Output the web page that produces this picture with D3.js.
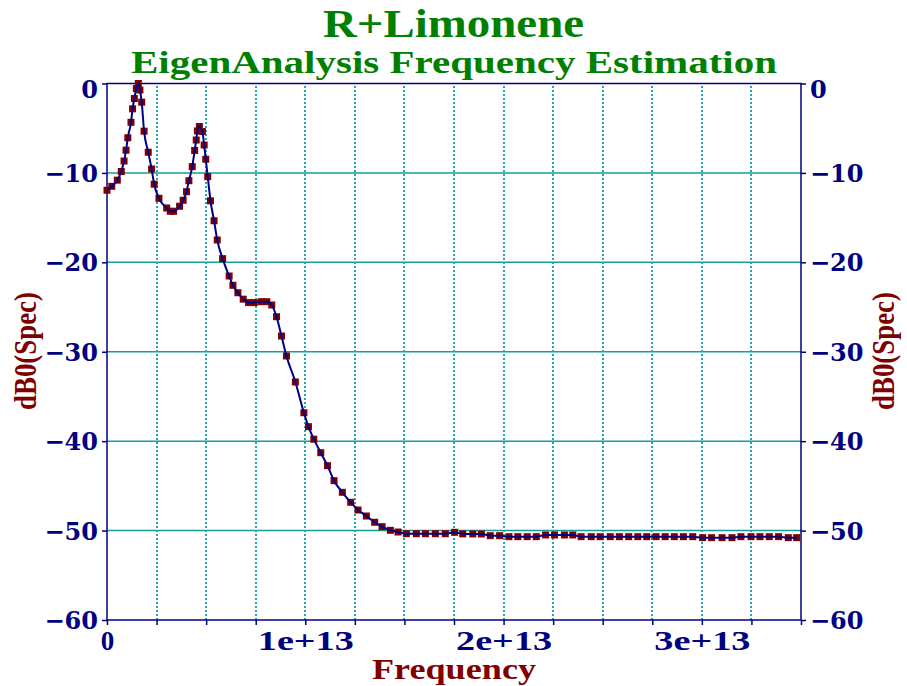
<!DOCTYPE html>
<html>
<head>
<meta charset="utf-8">
<script src="https://cdn.jsdelivr.net/npm/d3@7"></script>
<style>
  body { margin: 0; background: #fff; }
  svg { display: block; }
</style>
</head>
<body>
<svg id="chart"></svg>
<script>
// Spectrum samples: frequency (Hz) and level (dB)
const freq = [
    0.00e12, 0.24e12, 0.52e12, 0.72e12, 0.86e12, 0.96e12, 1.05e12, 1.21e12, 1.29e12, 1.38e12, 1.48e12, 1.58e12,
    1.66e12, 1.75e12, 1.87e12, 2.08e12, 2.25e12, 2.38e12,
    2.62e12, 3.01e12, 3.19e12, 3.36e12, 3.66e12, 3.84e12,
    4.01e12, 4.13e12, 4.30e12, 4.42e12, 4.50e12, 4.56e12,
    4.66e12, 4.81e12, 4.90e12, 4.98e12, 5.08e12, 5.22e12,
    5.40e12, 5.56e12, 5.83e12, 6.16e12, 6.35e12, 6.60e12,
    6.87e12, 7.14e12, 7.43e12, 7.79e12, 8.06e12, 8.31e12,
    8.55e12, 8.80e12, 9.05e12, 9.50e12, 9.93e12, 10.16e12,
    10.43e12, 10.78e12, 11.12e12, 11.45e12, 11.87e12, 12.29e12,
    12.66e12, 13.08e12, 13.50e12, 13.87e12, 14.29e12, 14.68e12,
    15.10e12, 15.60e12, 16.06e12, 16.56e12, 17.06e12, 17.53e12,
    17.94e12, 18.45e12, 18.88e12, 19.33e12, 19.80e12, 20.27e12,
    20.72e12, 21.19e12, 21.65e12, 22.12e12, 22.57e12, 23.07e12,
    23.49e12,
    23.91e12, 24.42e12, 24.87e12, 25.38e12, 25.84e12, 26.31e12, 26.77e12, 27.22e12, 27.69e12, 28.15e12, 28.61e12, 29.07e12, 29.54e12,
    30.04e12, 30.49e12, 31.02e12, 31.52e12,
    31.97e12, 32.48e12, 32.93e12, 33.40e12, 33.87e12,
    34.36e12, 34.78e12
];
const level = [
    -11.94, -11.50, -10.81, -9.84, -8.67, -7.46, -6.07, -4.34, -2.83, -1.68, -0.56, 0.00,
    -0.73, -2.09, -5.33, -7.69, -9.56, -11.26,
    -12.84, -13.92, -14.29, -14.29, -13.73, -13.06,
    -12.10, -10.87, -9.30, -7.49, -6.32, -5.31,
    -4.81, -5.37, -6.88, -8.47, -10.42, -13.12,
    -15.35, -17.50, -19.59, -21.53, -22.57, -23.40,
    -24.12, -24.50, -24.50, -24.40, -24.40, -24.77,
    -26.08, -28.24, -30.47, -33.38, -36.82, -38.38,
    -39.78, -41.29, -42.74, -44.42, -45.72, -46.84,
    -47.70, -48.37, -49.07, -49.56, -49.97, -50.16,
    -50.35, -50.35, -50.35, -50.35, -50.35, -50.19,
    -50.37, -50.38, -50.38, -50.57, -50.57, -50.68,
    -50.68, -50.68, -50.68, -50.49, -50.49, -50.49,
    -50.49,
    -50.68, -50.68, -50.68, -50.68, -50.68, -50.68, -50.68, -50.68, -50.68, -50.68, -50.68, -50.68, -50.68,
    -50.79, -50.79, -50.79, -50.79,
    -50.68, -50.68, -50.68, -50.68, -50.68,
    -50.79, -50.79
];

// Axis ticks and labels
const yTicks = [0, -10, -20, -30, -40, -50, -60];
const xGridTicks = [0, 2.5e12, 5e12, 7.5e12, 10e12, 12.5e12, 15e12, 17.5e12, 20e12, 22.5e12, 25e12, 27.5e12, 30e12, 32.5e12, 35e12];
const xLabelTicks = [0, 1e13, 2e13, 3e13];

const titleText = "R+Limonene";
const subtitleText = "EigenAnalysis Frequency Estimation";
const xTitle = "Frequency";
const yTitle = "dB0(Spec)";

(() => {
    const width = 907;
    const height = 686;
    const margin = { top: 83.5, right: 106, bottom: 66, left: 107 };

    const navy = "#000080";
    const darkRed = "#800000";
    const green = "#008000";
    const teal = "#169c9c";
    const dotTeal = "#22a8a8";

    const svg = d3.select("#chart")
        .attr("width", width)
        .attr("height", height);

    const x = d3.scaleLinear()
        .domain([0, 3.5e13])
        .range([margin.left, width - margin.right]);

    const y = d3.scaleLinear()
        .domain([-60, 0])
        .range([height - margin.bottom, margin.top]);

    const data = freq.map((f, i) => ({ f: f, v: level[i] }));

    // Horizontal grid (solid)
    svg.append("g")
        .selectAll("line")
        .data(yTicks.filter(t => t !== 0 && t !== -60))
        .join("line")
        .attr("x1", x.range()[0])
        .attr("x2", x.range()[1])
        .attr("y1", d => y(d))
        .attr("y2", d => y(d))
        .attr("stroke", teal)
        .attr("stroke-width", 1.5);

    // Vertical grid (dotted), snapped to whole pixels so the dots stay crisp
    svg.append("g")
        .selectAll("line")
        .data(xGridTicks.filter(t => t > 0 && t < 3.5e13))
        .join("line")
        .attr("x1", d => Math.round(x(d)))
        .attr("x2", d => Math.round(x(d)))
        .attr("y1", y.range()[0])
        .attr("y2", y.range()[1])
        .attr("stroke", dotTeal)
        .attr("stroke-width", 2)
        .attr("stroke-dasharray", "2,2");

    // Frame
    svg.append("rect")
        .attr("x", x.range()[0])
        .attr("y", y.range()[1])
        .attr("width", x.range()[1] - x.range()[0])
        .attr("height", y.range()[0] - y.range()[1])
        .attr("fill", "none")
        .attr("stroke", navy)
        .attr("stroke-width", 1.5);

    // Y axes left and right
    const yLeft = svg.append("g")
        .attr("transform", `translate(${margin.left},0)`)
        .call(d3.axisLeft(y).tickValues(yTicks).tickSize(5).tickPadding(4).tickFormat(d3.format("d")));
    const yRight = svg.append("g")
        .attr("transform", `translate(${width - margin.right},0)`)
        .call(d3.axisRight(y).tickValues(yTicks).tickSize(5).tickPadding(4).tickFormat(d3.format("d")));

    [yLeft, yRight].forEach(g => {
        g.select(".domain").remove();
        g.selectAll("line").attr("stroke", navy).attr("stroke-width", 1.5);
        g.selectAll("text")
            .attr("fill", navy)
            .style("font-family", "'DejaVu Serif', serif")
            .style("font-weight", "bold")
            .style("font-size", "24px")
            .attr("dy", d => d === 0 ? "0.6em" : "0.36em");
    });

    // X axis
    const xAxis = svg.append("g")
        .attr("transform", `translate(0,${height - margin.bottom})`)
        .call(d3.axisBottom(x).tickValues(xGridTicks).tickSize(5).tickPadding(4)
            .tickFormat(d => xLabelTicks.includes(d) ? (d === 0 ? "0" : d.toExponential()) : ""));
    xAxis.select(".domain").remove();
    xAxis.selectAll("line").attr("stroke", navy).attr("stroke-width", 1.5);
    xAxis.selectAll("text")
        .attr("fill", navy)
        .style("font-family", "'Liberation Serif', serif")
        .style("font-weight", "bold")
        .style("font-size", "27px")
        .attr("dy", "0.76em")
        .each(function (d) {
            if (d !== 0 && xLabelTicks.includes(d)) {
                d3.select(this).attr("textLength", 96).attr("lengthAdjust", "spacingAndGlyphs");
            }
        });

    // Markers
    svg.append("g")
        .selectAll("rect")
        .data(data)
        .join("rect")
        .attr("x", d => x(d.f) - 3.5)
        .attr("y", d => y(d.v) - 3.5)
        .attr("width", 7)
        .attr("height", 7)
        .attr("fill", darkRed);

    // Curve
    const line = d3.line()
        .x(d => x(d.f))
        .y(d => y(d.v))
        .curve(d3.curveMonotoneX);

    svg.append("path")
        .datum(data)
        .attr("d", line)
        .attr("fill", "none")
        .attr("stroke", navy)
        .attr("stroke-width", 2);

    // Titles
    const serif = "'Liberation Serif', serif";
    svg.append("text")
        .attr("x", 453.5)
        .attr("y", 37)
        .attr("text-anchor", "middle")
        .attr("textLength", 261)
        .attr("lengthAdjust", "spacingAndGlyphs")
        .attr("fill", green)
        .style("font-family", serif)
        .style("font-weight", "bold")
        .style("font-size", "39px")
        .text(titleText);

    svg.append("text")
        .attr("x", 454)
        .attr("y", 73)
        .attr("text-anchor", "middle")
        .attr("textLength", 646)
        .attr("lengthAdjust", "spacingAndGlyphs")
        .attr("fill", green)
        .style("font-family", serif)
        .style("font-weight", "bold")
        .style("font-size", "32px")
        .text(subtitleText);

    svg.append("text")
        .attr("x", 454)
        .attr("y", 679)
        .attr("text-anchor", "middle")
        .attr("textLength", 164)
        .attr("lengthAdjust", "spacingAndGlyphs")
        .attr("fill", darkRed)
        .style("font-family", serif)
        .style("font-weight", "bold")
        .style("font-size", "29px")
        .text(xTitle);

    [36, 894].forEach(bx => {
        svg.append("text")
            .attr("transform", `translate(${bx},351) rotate(-90)`)
            .attr("text-anchor", "middle")
            .attr("textLength", 118)
            .attr("lengthAdjust", "spacingAndGlyphs")
            .attr("fill", darkRed)
            .style("font-family", serif)
            .style("font-weight", "bold")
            .style("font-size", "31px")
            .text(yTitle);
    });
})();
</script>
</body>
</html>
